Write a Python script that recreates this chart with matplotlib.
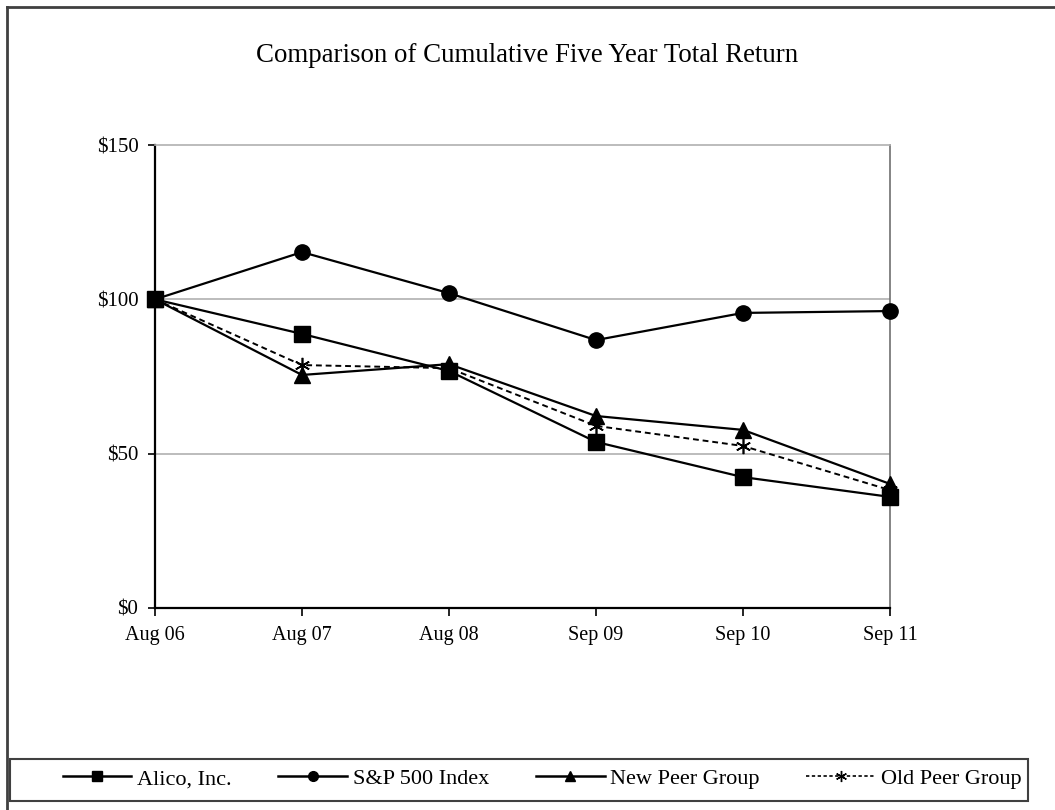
import matplotlib.pyplot as plt
from matplotlib.lines import Line2D

# Data
periods = ['Aug 06', 'Aug 07', 'Aug 08', 'Sep 09', 'Sep 10', 'Sep 11']
alico = [100, 88.8, 76.8, 53.8, 42.4, 36.0]
sp500 = [100, 115.3, 102.0, 86.8, 95.6, 96.2]
new_peer = [100, 75.5, 79.0, 62.2, 57.7, 40.2]
old_peer = [100, 78.7, 77.7, 59.0, 52.5, 38.2]
yticks = [0, 50, 100, 150]

plt.rcParams['font.family'] = ['Liberation Serif', 'DejaVu Serif']

fig = plt.figure(figsize=(10.55, 8.10), dpi=100)
ax = fig.add_axes([155/1055, 1 - 608/810, 735/1055, 463/810])

star = (6, 2, 0)  # excel-style star marker

x = list(range(len(periods)))
ax.plot(x, alico, color='black', lw=1.6, marker='s', ms=11, label='Alico, Inc.', zorder=5, clip_on=False)
ax.plot(x, sp500, color='black', lw=1.6, marker='o', ms=11, label='S&P 500 Index', zorder=4, clip_on=False)
ax.plot(x, new_peer, color='black', lw=1.6, marker='^', ms=11, label='New Peer Group', zorder=3, clip_on=False)
ax.plot(x, old_peer, color='black', lw=1.4, ls=(0, (3, 2)), marker=star, ms=11, mew=1.2,
        label='Old Peer Group', zorder=2, clip_on=False)

ax.set_xlim(0, len(periods) - 1)
ax.set_ylim(0, 150)
ax.set_xticks(x)
ax.set_xticklabels(periods, fontsize=14.5)
ax.set_yticks(yticks)
ax.set_yticklabels([f'${v}' for v in yticks], fontsize=15)
ax.tick_params(axis='both', direction='out', length=5, width=1.2, color='black', pad=7)
ax.tick_params(axis='y', pad=7)
ax.tick_params(axis='x', length=6)

for v in [50, 100]:
    ax.axhline(v, color='#b0b0b0', lw=1.2, zorder=0)
ax.spines['left'].set_linewidth(1.6)
ax.spines['bottom'].set_linewidth(1.6)
ax.spines['top'].set_color('#b0b0b0')
ax.spines['right'].set_color('#707070')
ax.spines['top'].set_linewidth(1.2)
ax.spines['right'].set_linewidth(1.2)

fig.text(527/1055, 1 - 56/810, 'Comparison of Cumulative Five Year Total Return',
         ha='center', va='center', fontsize=19.4)

handles = [
    Line2D([], [], color='black', lw=1.8, marker='s', ms=7),
    Line2D([], [], color='black', lw=1.8, marker='o', ms=7),
    Line2D([], [], color='black', lw=1.8, marker='^', ms=7),
    Line2D([], [], color='black', lw=1.2, ls=(0, (2, 1.5)), marker=star, ms=8, mew=1),
]
labels = ['Alico, Inc.', 'S&P 500 Index', 'New Peer Group', 'Old Peer Group']
leg = fig.legend(handles, labels, loc='center', ncol=4, fontsize=16,
                 bbox_to_anchor=(542/1055, 1 - 779/810),
                 frameon=False, handlelength=3.1, borderaxespad=0,
                 columnspacing=2.1, handletextpad=0.25)

# legend box
fig.add_artist(plt.Rectangle((10/1055, 1 - 801/810), 1018/1055, 42/810,
                             transform=fig.transFigure, fill=False,
                             edgecolor='#404040', lw=1.5))

# outer border (only left/top visible in the crop)
fig.add_artist(Line2D([7/1055, 7/1055], [0, 1 - 7/810], transform=fig.transFigure,
                      color='#404040', lw=2))
fig.add_artist(Line2D([7/1055, 1], [1 - 7/810, 1 - 7/810], transform=fig.transFigure,
                      color='#404040', lw=2))

fig.savefig('out.png', dpi=100)
